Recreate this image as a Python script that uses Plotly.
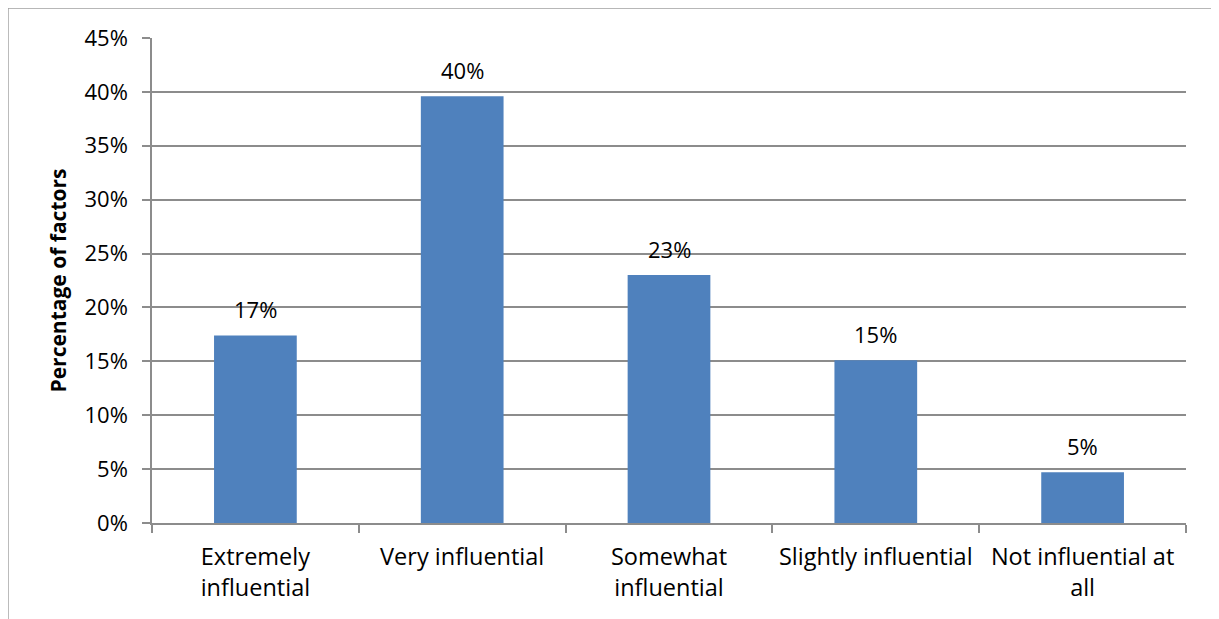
import plotly.graph_objects as go

categories = ["Extremely<br>influential", "Very influential", "Somewhat<br>influential",
              "Slightly influential", "Not influential at<br>all"]
values = [0.174, 0.396, 0.230, 0.151, 0.047]
y_ticks = [0, 0.05, 0.10, 0.15, 0.20, 0.25, 0.30, 0.35, 0.40, 0.45]

FONT = "Open Sans"
GRID = "#8c8c8c"
FS = 22

fig = go.Figure(go.Bar(
    x=categories, y=values,
    marker=dict(color="#4f81bd", line=dict(width=0)),
    width=0.4,
))

for c, v in zip(categories, values):
    fig.add_annotation(x=c, y=v, text=f"{v:.0%}", showarrow=False,
                       yanchor="bottom", yshift=9,
                       font=dict(family=FONT, size=FS, color="black"))

fig.update_layout(
    width=1219, height=619,
    margin=dict(l=144, r=41, t=30, b=104),
    plot_bgcolor="white", paper_bgcolor="white",
    showlegend=False,
    font=dict(family=FONT, size=FS, color="black"),
    xaxis=dict(
        showline=True, linecolor=GRID, linewidth=1.5,
        ticks="outside", tickson="boundaries", ticklen=8, tickcolor=GRID, tickwidth=1.5,
        tickfont=dict(family=FONT, size=23.5), showgrid=False,
        ticklabelstandoff=12,
    ),
    yaxis=dict(
        range=[0, 0.45], tickvals=y_ticks, tickformat=".0%",
        showline=True, linecolor=GRID, linewidth=1.5,
        ticks="outside", ticklen=8, tickcolor=GRID, tickwidth=1.5,
        showgrid=True, gridcolor=GRID, gridwidth=1.5,
        tickfont=dict(family=FONT, size=FS),
        ticklabelstandoff=10,
        title=dict(text="<b>Percentage of factors</b>", font=dict(family=FONT, size=21), standoff=12),
        zeroline=False,
    ),
    shapes=[dict(type="rect", xref="paper", yref="paper",
                 x0=-0.1393, x1=1.0280, y0=-0.4, y1=1.0619,
                 line=dict(color="#a0a0a0", width=1.5), layer="below")],
    bargap=0.6,
)

fig.write_html("out.html")
